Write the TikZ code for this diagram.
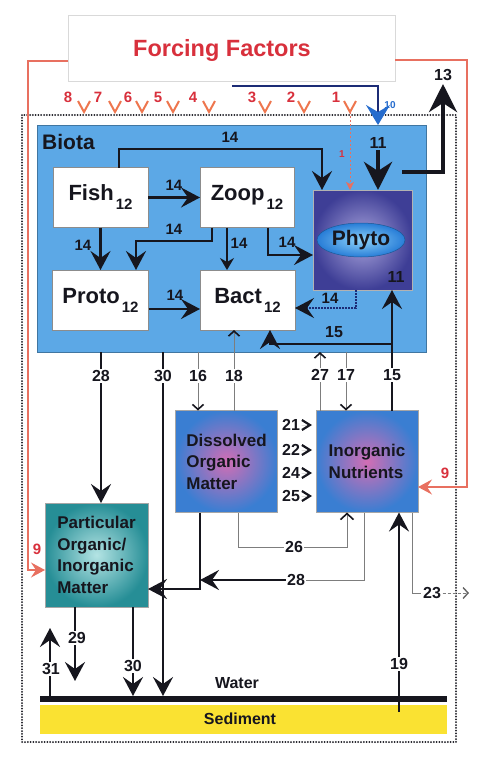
\documentclass[tikz,border=0pt]{standalone}
\usepackage{fontspec}
\setmainfont{Liberation Sans}
\usetikzlibrary{arrows.meta,shapes.geometric}
\definecolor{biota}{RGB}{92,168,230}
\definecolor{forc}{RGB}{216,48,60}
\definecolor{salmon}{RGB}{232,112,96}
\definecolor{chevc}{RGB}{238,118,78}
\definecolor{navy}{RGB}{28,44,118}
\definecolor{blu}{RGB}{38,108,205}
\definecolor{ink}{RGB}{22,22,30}
\definecolor{thin}{RGB}{125,125,125}
\definecolor{domout}{RGB}{58,126,210}
\definecolor{domin}{RGB}{210,110,180}
\definecolor{pomout}{RGB}{38,142,150}
\definecolor{pomin}{RGB}{180,228,228}
\definecolor{phyout}{RGB}{62,62,150}
\definecolor{phyin}{RGB}{170,165,220}
\definecolor{ellout}{RGB}{40,125,215}
\definecolor{ellin}{RGB}{140,210,250}
\definecolor{sed}{RGB}{250,226,50}
\newcommand{\fsz}[1]{\fontsize{#1}{#1}\selectfont}
\tikzset{
  box/.style={inner sep=0pt, outer sep=0pt},
  whitebox/.style={box, draw=black!45, line width=0.6pt, fill=white,
    minimum width=95pt, minimum height=60pt, font=\fsz{22}\bfseries, text=ink},
  shadebox/.style={box, draw=black!35, line width=0.5pt, minimum width=102pt, minimum height=102pt,
    shading=radial, font=\fontsize{17}{21.5}\selectfont\bfseries, text=ink, align=left},
  lab/.style={font=\fsz{16}\bfseries, text=ink, inner sep=1.5pt},
  labf/.style={font=\fsz{15}\bfseries, text=ink, inner sep=1pt},
  gap/.style={lab, fill=white},
  redlab/.style={font=\fsz{15}\bfseries, text=forc, inner sep=1pt},
  arr/.style={draw=ink, line width=2.4pt, -{Stealth[length=19pt,width=20pt,inset=7pt]}},
  plain/.style={draw=ink, line width=2.4pt},
  bigarr/.style={draw=ink, line width=4.5pt, -{Stealth[length=28pt,width=28pt,inset=9pt]}},
  midarr/.style={draw=ink, line width=1.2pt, -{Stealth[length=12pt,width=14pt,inset=4pt]}},
  thinarr/.style={draw=thin, line width=0.9pt, -{Straight Barb[length=5pt,width=11pt,line width=1.6pt,color=ink]}},
  thinline/.style={draw=thin, line width=0.9pt},
  redarr/.style={draw=salmon, line width=1.3pt, -{Stealth[length=14pt,width=15pt,inset=5pt]}},
  chevron/.style={draw=chevc, line width=2pt},
  chevarr/.style={line width=0.01pt, shorten >=4pt, -{Straight Barb[length=8pt,width=10pt,line width=2.2pt,color=ink]}},
}
\begin{document}
\begin{tikzpicture}[x=1pt,y=-1pt]
\useasboundingbox (0,0) rectangle (494,766);
% system boundary
\draw[ink, line width=2pt, line cap=round, dash pattern=on 0pt off 2.8pt] (22,115) rectangle (456,742);
% sediment and water
\node[box, fill=sed, minimum width=407pt, minimum height=29pt, anchor=north west] (sediment) at (40,705) {};
\node[font=\fsz{16}\bfseries, text=ink] (sedtext) at (240,719) {Sediment};
\node[box, fill=ink, minimum width=407pt, minimum height=6pt, anchor=north west] (waterline) at (40,696) {};
\node[font=\fsz{16}\bfseries, text=ink] (watertext) at (237,683) {Water};
% forcing factors
\node[box, draw=black!15, fill=white, minimum width=327pt, minimum height=66pt, anchor=north west] (forcing) at (68,15) {};
\node[font=\fsz{23.5}\bfseries, text=forc] (forcingtext) at (222,50) {Forcing Factors};
% biota
\node[box, draw=biota!70!black, line width=0.5pt, fill=biota, minimum width=389pt, minimum height=227pt, anchor=north west] (biota) at (37,125) {};
\node[font=\fsz{21}\bfseries, text=ink, anchor=west, inner sep=0pt] (biotalab) at (42,142) {Biota};
\node[whitebox] (fish) at (100.5,197.5) {Fish\hspace{2pt}\raisebox{-9pt}{\fsz{15}12}};
\node[whitebox, minimum width=94pt] (zoop) at (247,197.5) {Zoop\hspace{2pt}\raisebox{-9pt}{\fsz{15}12}};
\node[whitebox, minimum width=96pt] (proto) at (100.5,300) {Proto\hspace{2pt}\raisebox{-9pt}{\fsz{15}12}};
\node[whitebox] (bact) at (247.5,300) {Bact\hspace{2pt}\raisebox{-9pt}{\fsz{15}12}};
\node[box, draw=black!30, shading=radial, inner color=phyin, outer color=phyout, minimum width=99pt, minimum height=100pt] (phyto) at (362.5,240) {};
\node[ellipse, box, draw=ellout!70!black, line width=0.5pt, shading=radial, inner color=ellin, outer color=ellout,
  minimum width=88pt, minimum height=34pt, font=\fsz{21}\bfseries, text=ink] (phytoname) at (361,240) {Phyto};
% pools
\node[shadebox, inner color=domin, outer color=domout] (dom) at (226.5,461.5) {Dissolved\\Organic\\Matter};
\node[shadebox, inner color=domin, outer color=domout] (in) at (367,461.5) {Inorganic\\Nutrients};
\node[shadebox, inner color=pomin, outer color=pomout, minimum width=103pt, minimum height=104pt] (pom) at (96.5,555) {Particular\\Organic/\\Inorganic\\Matter};
% forcing arrows (red)
\draw[redarr] (forcing.west |- 0,61) -| (28,570) -- (pom.west |- 0,570);
\draw[redarr] (forcing.east |- 0,60) -| (467,487) -- (in.east |- 0,487);
\foreach \x/\n/\cx in {68/8/84, 98/7/115, 128/6/142, 158/5/173, 193/4/209, 252/3/265, 291/2/304, 336/1/350}{
  \node[redlab] (r\n) at (\x,97) {\n};
  \draw[chevron] (\cx-6,101) -- (\cx,112) -- (\cx+6,101);
}
\node[redlab] (r9a) at (445,473) {9};
\node[redlab] (r9b) at (37,549) {9};
% 10 (blue)
\coordinate (c10) at (232,86);
\draw[navy, line width=2pt, -{Stealth[length=20pt,width=24pt,inset=7pt,color=blu]}] (c10) -| (biota.north -| 378,0);
\node[font=\fsz{10}\bfseries, text=blu, inner sep=0pt] (l10) at (390,105) {10};
% red 1 into phyto
\draw[salmon, line width=0.8pt, dash pattern=on 2pt off 2pt, -{Stealth[length=8pt,width=8pt,inset=2pt]}] (350,112) -- (phyto.north -| 350,0);
\node[font=\fsz{10}\bfseries, text=forc, inner sep=0pt] (l1s) at (342,154) {1};
% 11 and 13
\node[lab] (l11) at (378,143) {11};
\draw[bigarr] (l11.south) -- (phyto.north -| 378,0);
\coordinate (s13) at (402,172);
\coordinate (e13) at (443,84);
\draw[bigarr] (s13) -| (e13);
\node[lab] (l13) at (443,75) {13};
% biota internal flows (14)
\draw[arr] (fish.east) -- (zoop.west);
\draw[arr] (fish.north -| 119,0) |- (322,149) -- (phyto.north -| 322,0);
\draw[arr] (fish.south) -- (proto.north);
\draw[arr] (zoop.south -| 212,0) |- (136,241) -- (proto.north -| 136,0);
\draw[midarr] (zoop.south -| 227,0) -- (bact.north -| 227,0);
\draw[arr] (zoop.south -| 268,0) |- (phyto.west |- 0,255);
\draw[arr] (proto.east |- 0,309) -- (bact.west |- 0,309);
\draw[navy, line width=1.6pt, dash pattern=on 1.6pt off 1.4pt, -{Stealth[length=19pt,width=20pt,inset=7pt,color=ink]}] (phyto.south -| 356,0) |- (bact.east |- 0,308);
\node[labf] (a14) at (174,185) {14};
\node[labf] (b14) at (230,137) {14};
\node[labf] (c14) at (83,245) {14};
\node[labf] (d14) at (174,229) {14};
\node[labf] (e14) at (239,243) {14};
\node[labf] (f14) at (287,242) {14};
\node[labf] (g14) at (175,295) {14};
\node[labf] (h14) at (330,298) {14};
\node[lab] (l11b) at (396,277) {11};
% 15
\draw[arr] (in.north -| 392,0) -- (phyto.south -| 392,0);
\draw[arr] (392,344) -| (bact.south -| 270,0);
\node[lab] (l15a) at (334,332) {15};
% flows between biota and pools
\draw[arr] (biota.south -| 101,0) -- (pom.north -| 101,0);
\draw[arr] (biota.south -| 163,0) -- (waterline.north -| 163,0);
\draw[thinarr] (biota.south -| 198,0) -- (dom.north -| 198,0);
\draw[thinarr] (dom.north -| 234,0) -- (bact.south -| 234,0);
\draw[thinarr] (in.north -| 320,0) -- (biota.south -| 320,0);
\draw[thinarr] (biota.south -| 346,0) -- (in.north -| 346,0);
\node[gap] (l28a) at (101,376) {28};
\node[gap] (l30a) at (163,376) {30};
\node[gap] (l16) at (198,376) {16};
\node[gap] (l18) at (234,376) {18};
\node[gap] (l27) at (320,375) {27};
\node[gap] (l17) at (346,375) {17};
\node[gap] (l15b) at (392,375) {15};
% DOM -> IN
\node[lab] (l21) at (291,425) {21};
\node[lab] (l22) at (291,450) {22};
\node[lab] (l24) at (291,473) {24};
\node[lab] (l25) at (291,496) {25};
\foreach \k in {21,22,24,25}{
  \draw[chevarr] (l\k.east) -- (l\k.east -| in.west);
}
% 26
\draw[thinarr, -{Straight Barb[length=6pt,width=13pt,line width=1.6pt,color=ink]}] (dom.south -| 238,0) |- (347,547) -- (in.south -| 347,0);
\node[gap] (l26) at (294,547) {26};
% 28 lower
\draw[thinline] (in.south -| 364,0) |- (296,580);
\draw[arr] (296,580) -- (200,580);
\node[gap] (l28b) at (296,580) {28};
\draw[arr] (dom.south -| 200,0) |- (pom.east |- 0,589);
% 23
\node[gap] (l23) at (432,593) {23};
\draw[thinline] (in.south -| 412,0) |- (l23.west);
\coordinate (e23) at (469,593);
\draw[thinline, dash pattern=on 3pt off 2pt, -{Straight Barb[length=5pt,width=11pt,line width=1.4pt,color=thin!80!black]}] (l23.east) -- (e23);
% bottom flows
\coordinate (e29) at (75,681);
\coordinate (e31) at (50,628);
\coordinate (s19) at (399,712);
\draw[arr] (pom.south -| 75,0) -- (e29);
\draw[arr] (waterline.north -| 50,0) -- (e31);
\draw[arr] (pom.south -| 133,0) -- (waterline.north -| 133,0);
\draw[arr] (s19) -- (in.south -| 399,0);
\node[gap] (l29) at (77,638) {29};
\node[gap] (l31) at (51,669) {31};
\node[gap] (l30b) at (133,666) {30};
\node[gap] (l19) at (399,664) {19};
\end{tikzpicture}
\end{document}
